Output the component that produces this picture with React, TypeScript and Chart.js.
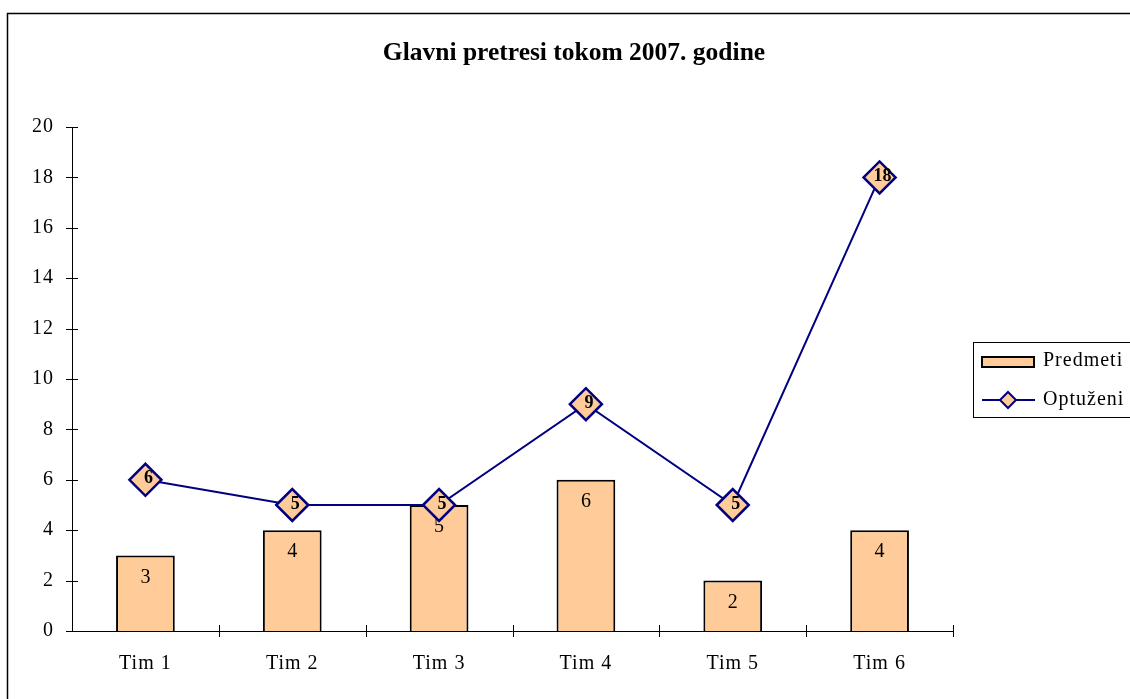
import React, { useEffect, useRef } from "react";
import { Chart, registerables } from "chart.js";

Chart.register(...registerables);

const TITLE = "Glavni pretresi tokom 2007. godine";
const CATEGORIES = ["Tim 1", "Tim 2", "Tim 3", "Tim 4", "Tim 5", "Tim 6"];
const PREDMETI = [3, 4, 5, 6, 2, 4];
const OPTUZENI = [6, 5, 5, 9, 5, 18];
const SERIES_NAMES = ["Predmeti", "Optuženi"];
const Y_MIN = 0;
const Y_MAX = 20;
const Y_STEP = 2;

const SERIF = '"Liberation Serif", "Times New Roman", serif';
const BAR_FILL = "#FFCC99";
const LINE_COLOR = "#000080";

const decorPlugin = {
  id: "decor",
  beforeDraw(chart: any) {
    const ctx = chart.ctx;
    (ctx as any).letterSpacing = "1px";
    ctx.save();
    ctx.fillStyle = "#fff";
    ctx.fillRect(0, 0, chart.width, chart.height);
    // outer frame
    ctx.strokeStyle = "#000";
    ctx.lineWidth = 1.5;
    ctx.strokeRect(7.5, 13.5, chart.width + 20, chart.height + 20);
    // title
    (ctx as any).letterSpacing = "0px";
    ctx.fillStyle = "#000";
    ctx.font = `bold 25.5px ${SERIF}`;
    ctx.textAlign = "center";
    ctx.textBaseline = "alphabetic";
    ctx.fillText(TITLE, 574, 60);
    ctx.restore();
  },
  afterDatasetDraw(chart: any, args: any) {
    const ctx = chart.ctx;
    const meta = args.meta;
    const ds = chart.data.datasets[args.index];
    ctx.save();
    (ctx as any).letterSpacing = "0px";
    ctx.fillStyle = "#000";
    ctx.textAlign = "center";
    ctx.textBaseline = "middle";
    if (meta.type === "bar") {
      ctx.font = `20px ${SERIF}`;
      meta.data.forEach((el: any, i: number) => {
        ctx.fillText(String(ds.data[i]), el.x, el.y + 22);
      });
    } else {
      ctx.font = `bold 18px ${SERIF}`;
      meta.data.forEach((el: any, i: number) => {
        ctx.fillText(String(ds.data[i]), el.x + 3, el.y - 1);
      });
    }
    ctx.restore();
  },
  afterDraw(chart: any) {
    const ctx = chart.ctx;
    const ys = chart.scales.y;
    const area = chart.chartArea;
    ctx.save();
    ctx.strokeStyle = "#000";
    ctx.lineWidth = 1;
    // axes
    ctx.beginPath();
    ctx.moveTo(Math.round(area.left) + 0.5, area.top);
    ctx.lineTo(Math.round(area.left) + 0.5, area.bottom);
    ctx.moveTo(area.left, Math.round(area.bottom) + 0.5);
    ctx.lineTo(area.right, Math.round(area.bottom) + 0.5);
    // y ticks (cross)
    ys.ticks.forEach((t: any) => {
      const y = Math.round(ys.getPixelForValue(t.value)) + 0.5;
      ctx.moveTo(area.left - 6, y);
      ctx.lineTo(area.left + 6, y);
    });
    // x ticks at category boundaries (cross)
    const n = CATEGORIES.length;
    const w = (area.right - area.left) / n;
    for (let i = 1; i <= n; i++) {
      const x = Math.round(area.left + i * w) + 0.5;
      ctx.moveTo(x, area.bottom - 6);
      ctx.lineTo(x, area.bottom + 6);
    }
    ctx.stroke();

    // legend
    const lx = 973, ly = 342;
    ctx.lineWidth = 1;
    ctx.strokeRect(lx + 0.5, ly + 0.5, 200, 75);
    const d0 = chart.data.datasets[0];
    const d1 = chart.data.datasets[1];
    ctx.fillStyle = d0.backgroundColor;
    ctx.fillRect(982, 357, 52, 10);
    ctx.lineWidth = 2;
    ctx.strokeStyle = "#000";
    ctx.strokeRect(982, 357, 52, 10);
    ctx.strokeStyle = d1.borderColor;
    ctx.lineWidth = 2;
    ctx.beginPath();
    ctx.moveTo(982, 400);
    ctx.lineTo(1035, 400);
    ctx.stroke();
    ctx.beginPath();
    ctx.moveTo(1008, 392);
    ctx.lineTo(1016, 400);
    ctx.lineTo(1008, 408);
    ctx.lineTo(1000, 400);
    ctx.closePath();
    ctx.fillStyle = d1.pointBackgroundColor;
    ctx.fill();
    ctx.stroke();
    ctx.fillStyle = "#000";
    ctx.font = `20px ${SERIF}`;
    ctx.textAlign = "left";
    ctx.textBaseline = "middle";
    ctx.fillText(d0.label, 1043, 361);
    ctx.fillText(d1.label, 1043, 400);
    ctx.restore();
  },
};

export default function App() {
  const ref = useRef<HTMLCanvasElement | null>(null);
  useEffect(() => {
    if (!ref.current) return;
    const chart = new Chart(ref.current, {
      type: "bar",
      data: {
        labels: CATEGORIES,
        datasets: [
          {
            type: "bar",
            label: SERIES_NAMES[0],
            data: PREDMETI,
            backgroundColor: BAR_FILL,
            borderColor: "#000",
            borderWidth: 2,
            barPercentage: 0.4,
            categoryPercentage: 1,
            order: 2,
          },
          {
            type: "line",
            label: SERIES_NAMES[1],
            data: OPTUZENI,
            borderColor: LINE_COLOR,
            borderWidth: 2,
            backgroundColor: BAR_FILL,
            pointBackgroundColor: BAR_FILL,
            pointBorderColor: LINE_COLOR,
            pointBorderWidth: 2.5,
            pointStyle: "rectRot",
            pointRadius: 16,
            tension: 0,
            clip: false,
            order: 1,
          } as any,
        ],
      },
      options: {
        animation: false,
        responsive: false,
        maintainAspectRatio: false,
        layout: { padding: { left: 12, right: 177, top: 127, bottom: 18 } },
        plugins: {
          legend: { display: false },
          title: { display: false },
          tooltip: { enabled: false },
        },
        scales: {
          x: {
            offset: true,
            grid: { display: false },
            border: { display: false },
            ticks: {
              color: "#000",
              font: { family: SERIF, size: 20 },
              padding: 13,
            },
            afterFit: (s: any) => {
              s.width = s.width;
              s.height = 50;
            },
          },
          y: {
            min: Y_MIN,
            max: Y_MAX,
            grid: { display: false },
            border: { display: false },
            ticks: {
              stepSize: Y_STEP,
              color: "#000",
              font: { family: SERIF, size: 20 },
              padding: 10,
            },
            afterFit: (s: any) => {
              s.width = 60;
            },
          },
        },
      },
      plugins: [decorPlugin],
    });
    return () => chart.destroy();
  }, []);
  return (
    <div style={{ position: "fixed", left: 0, top: 0, width: 1130, height: 699, background: "#fff" }}>
      <canvas ref={ref} width={1130} height={699} style={{ display: "block" }} />
    </div>
  );
}
